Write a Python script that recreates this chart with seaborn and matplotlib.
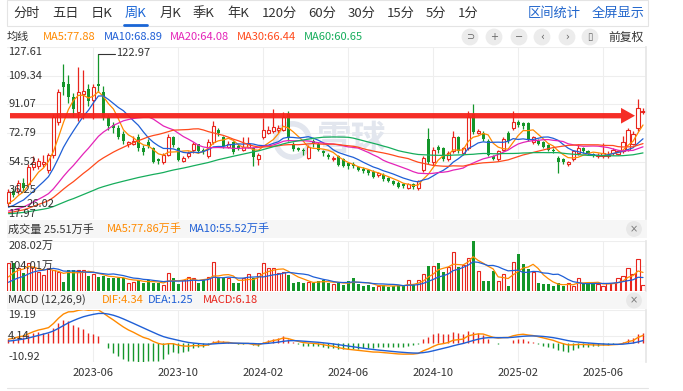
import numpy as np
import pandas as pd
import matplotlib.pyplot as plt
import seaborn as sns
from matplotlib.patches import FancyArrow, Rectangle
from matplotlib.lines import Line2D

# weekly K-line (前复权), oldest first
opens = [28, 36, 36, 41, 40, 51, 52, 53, 49, 59,
         80, 105, 104, 96, 86, 97.5, 100.7, 94, 103.9, 99,
         83, 78, 76, 72, 65.5, 66, 70, 63, 67, 63,
         56, 54, 59, 70, 63, 55, 58, 62, 65.5, 62,
         58, 67, 74.5, 70, 64, 67, 64.5, 62, 64, 63,
         56, 70, 73, 74, 74.5, 75, 85, 66, 63, 62,
         57, 68, 66, 61, 59, 56, 58, 56, 53.5, 53,
         51, 50, 49, 48, 46, 46, 44, 42, 41, 40,
         38, 40, 38, 49, 69, 54, 64, 63, 56, 61,
         70, 60, 63, 85, 73, 73, 68, 58, 56, 62,
         73, 76, 80, 79, 79, 67, 68, 67, 65, 62,
         57, 56, 53, 56, 60, 63, 61, 59.5, 58, 58,
         58, 60, 59.5, 61, 62, 66, 76, 86]
closes = [35, 33.5, 41, 38, 51, 54, 55, 54.5, 59, 83,
          99, 102, 96, 88, 99, 99.4, 93, 102, 102.5, 83,
          77, 76, 70.5, 67.5, 67, 68, 63, 60.5, 64.5, 54.5,
          55, 59, 70, 65, 55.5, 57, 60, 65.5, 61.5, 61,
          67, 77, 72.5, 64.5, 66, 60.5, 63, 64, 65.5, 57.5,
          59, 75, 75, 76.5, 76, 83, 69.5, 62.5, 62, 61,
          64, 65.5, 62, 60, 57.5, 57, 52.5, 51.5, 51.5, 51.5,
          49.5, 48.5, 47, 45, 47, 43.5, 42.5, 40.5, 38.5, 39,
          40, 38.5, 42, 57, 54.5, 62, 62, 56, 60, 70,
          61, 63, 83, 73.5, 74, 69, 58.5, 56.5, 61, 69,
          67.5, 80, 78, 77, 69, 70, 66, 64, 62, 61,
          54.5, 54, 54, 61, 63, 61, 59.5, 58.5, 59, 60,
          59, 62, 61.5, 67, 75, 72, 89, 86.5]
highs = [37, 38, 43, 44, 53, 58, 57, 59, 60, 85,
         101, 116.5, 110, 98, 115, 113, 104, 104, 122.97, 103,
         85, 80, 78, 74, 68, 71, 72, 65, 69, 64,
         57, 60, 72, 71, 64, 58, 61, 67, 66, 63,
         69, 80.5, 76, 71, 68, 68, 66, 70.5, 70, 64,
         60, 82.5, 77, 88, 78, 86, 87, 67, 64, 63,
         65, 69, 67, 62, 60, 58, 59, 57, 54, 54,
         52, 51, 50, 49, 48, 47, 45, 43, 42, 41,
         41, 41, 43, 58, 76, 64, 65, 64, 61, 74,
         71, 64, 87, 91, 75.5, 74, 69, 59, 62, 70,
         74, 86.5, 81, 80, 80, 71, 69, 68, 66, 63,
         58, 57, 55, 62, 66, 64, 62, 60, 60, 66.5,
         61, 63, 62, 71, 76, 74, 94.5, 88.5]
lows = [26.02, 32, 34, 36, 39, 49, 50, 51, 47, 57,
        78, 97, 92, 83, 80.5, 81.5, 90, 81.5, 99, 81,
        75, 73, 69, 66, 64, 65, 61, 59, 63, 53.5,
        53, 53, 58, 64, 55, 54, 57, 60, 60, 59.5,
        57, 66, 71, 63, 63, 59.5, 62, 61, 63, 51.5,
        52.5, 69, 72, 73, 73, 74, 68, 61, 61, 59,
        56, 64, 61, 58, 56.5, 55, 52, 51, 50, 50.5,
        48.5, 47.5, 46, 44, 45, 42.5, 41.5, 39.5, 37.5, 38,
        37, 37, 36.5, 48, 53, 52.5, 60, 55, 55, 60,
        60, 59, 62, 72, 72, 68, 58, 55.5, 55, 61,
        66.5, 75, 76.5, 75.5, 68, 66, 65, 63, 61, 60,
        47.3, 53, 52, 55, 59, 60, 58.5, 57.5, 57, 57,
        57, 59, 58.5, 60, 61, 65, 74, 85]
# 成交量, 万手
volumes = [115, 115, 94, 73, 115, 101, 80, 67, 94, 87,
           80, 39, 87, 87, 87, 87, 62, 69, 60, 62,
           55, 53, 53, 53, 32, 39, 46, 32, 46, 32,
           32, 25, 73, 53, 29, 46, 60, 53, 32, 46,
           60, 122, 53, 53, 53, 32, 32, 53, 69, 53,
           73, 115, 94, 97, 73, 80, 67, 32, 39, 35,
           39, 32, 42, 46, 35, 28, 32, 25, 42, 56,
           28, 21, 25, 18, 21, 25, 18, 21, 25, 21,
           45, 25, 45, 70, 105, 105, 115, 77, 98, 162,
           98, 108, 138, 208.02, 84, 42, 42, 84, 42, 70,
           21, 120, 155, 112, 91, 77, 35, 28, 28, 21,
           32, 21, 35, 21, 56, 35, 28, 35, 28, 21,
           35, 35, 56, 63, 95, 70, 133, 25.51]

# weeks before the visible window, only used to warm up MA / MACD
prior_closes = [21.5, 22.0, 21.2, 20.8, 21.5, 22.3, 23.0, 22.1, 21.4, 20.6,
                20.1, 19.8, 20.5, 21.2, 20.9, 20.3, 19.7, 19.2, 19.8, 20.4,
                21.0, 21.6, 20.8, 20.2, 19.6, 19.1, 18.8, 19.4, 20.0, 20.6,
                21.3, 20.7, 20.1, 19.5, 19.0, 18.6, 19.2, 19.9, 20.5, 21.1,
                21.8, 21.2, 20.6, 20.0, 19.6, 20.2, 20.9, 21.5, 21.0, 20.5,
                21.2, 21.9, 22.6, 22.0, 23.5, 24.8, 23.9, 25.5, 27.0, 28.5]
prior_volumes = [12, 14, 10, 16, 18, 30, 40, 48, 60]

tick_labels = ['2023-06', '2023-10', '2024-02', '2024-06', '2024-10', '2025-02', '2025-06']
price_ticks = [127.61, 109.34, 91.07, 72.79, 54.52, 36.25, 17.97]
vol_ticks = [208.02, 104.01]
macd_ticks = [19.19, 4.14, -10.92]
tabs = ['分时', '五日', '日K', '周K', '月K', '季K', '年K', '120分', '60分', '30分', '15分', '5分', '1分']
ma_windows = [5, 10, 20, 30, 60]
ma_labels = ['MA5:77.88', 'MA10:68.89', 'MA20:64.08', 'MA30:66.44', 'MA60:60.65']
arrow_level = 83.8

RED = '#e8251d'
GREEN = '#14962a'
MA_COLORS = ['#ff8a00', '#1f5fd6', '#e424b8', '#ff4a1c', '#16ad5c']
GRID = '#eeeeee'
TXT = '#333333'

W, H = 683, 391


def fx(x):
    return x / W


def fy(y):
    return 1 - y / H


sns.set_theme(style='white')
plt.rcParams['font.family'] = ['Noto Sans CJK SC', 'DejaVu Sans']

n = len(closes)
idx = np.arange(n)
o = np.array(opens)
c = np.array(closes)
h = np.array(highs)
l = np.array(lows)
v = np.array(volumes)
up = c >= o
top = np.maximum(o, c)
bot = np.minimum(o, c)
hgt = np.maximum(top - bot, 0.35)

all_close = pd.Series(prior_closes + closes)
k = len(prior_closes)
ma = {w: all_close.rolling(w).mean().iloc[k:].values for w in ma_windows}
all_vol = pd.Series(prior_volumes + volumes)
vma5 = all_vol.rolling(5).mean().iloc[len(prior_volumes):].values
vma10 = all_vol.rolling(10).mean().iloc[len(prior_volumes):].values
dif = all_close.ewm(span=12, adjust=False).mean() - all_close.ewm(span=26, adjust=False).mean()
dea = dif.ewm(span=9, adjust=False).mean()
dif = dif.iloc[k:].values
dea = dea.iloc[k:].values
hist = 2 * (dif - dea)

fig = plt.figure(figsize=(W / 100, H / 100), dpi=100)
fig.patch.set_facecolor('white')

left, right = 7, 646
ax = fig.add_axes([fx(left), fy(219), fx(right - left), 172 / H])
axv = fig.add_axes([fx(left), fy(291), fx(right - left), 50 / H])
axm = fig.add_axes([fx(left), fy(362), fx(right - left), 52 / H])

ticks = list(range(17, n, 17))[:len(tick_labels)]
for a in (ax, axv, axm):
    a.set_xlim(-0.3, 127.6)
    a.set_xticks(ticks)
    a.grid(axis='x', color=GRID, lw=0.8)
    a.grid(axis='y', color=GRID, lw=0.8)
    for s in a.spines.values():
        s.set_visible(False)
    a.spines['right'].set_visible(True)
    a.spines['right'].set_color('#e6e6e6')
    a.tick_params(length=0, labelleft=False, labelbottom=False)
    a.set_axisbelow(True)

# ---- price panel
ax.set_ylim(price_ticks[-1], price_ticks[0])
ax.set_yticks(price_ticks)
ax.vlines(idx[~up], l[~up], h[~up], color=GREEN, lw=0.9, zorder=2)
ax.bar(idx[~up], hgt[~up], bottom=bot[~up], width=0.62, color=GREEN, lw=0, zorder=2)
ax.vlines(idx[up], l[up], bot[up], color=RED, lw=0.9, zorder=2)
ax.vlines(idx[up], top[up], h[up], color=RED, lw=0.9, zorder=2)
ax.bar(idx[up], hgt[up], bottom=bot[up], width=0.62, facecolor='white', edgecolor=RED, lw=0.8, zorder=2)
for w, col in zip(ma_windows, MA_COLORS):
    sns.lineplot(x=idx, y=ma[w], ax=ax, color=col, linewidth=0.9, zorder=3)
ax.set_ylabel('')

ax.add_patch(FancyArrow(0.3, arrow_level, 125.1, 0, width=3.4, head_width=10, head_length=2.8,
                        length_includes_head=True, color='#f5221b', lw=0, alpha=0.95, zorder=5))

imax = int(np.argmax(h))
ax.plot([imax, imax + 3.3], [h[imax]] * 2, color=TXT, lw=0.8, zorder=4)
ax.text(imax + 3.5, h[imax] + 0.5, f'{h[imax]:.2f}', fontsize=8, color=TXT, va='center', zorder=6)
imin = int(np.argmin(l))
ax.plot([imin, imin + 3.4], [l[imin]] * 2, color=TXT, lw=0.8, zorder=4)
ax.text(imin + 3.7, l[imin] + 1.5, f'{l[imin]:.2f}', fontsize=8, color=TXT, va='center', zorder=6)

ytr = ax.get_yaxis_transform()
for i, t in enumerate(price_ticks):
    va = 'top' if i == 0 else ('bottom' if i == len(price_ticks) - 1 else 'center')
    ax.text(0.002, t, f'{t:.2f}', transform=ytr, fontsize=8, color=TXT, va=va, ha='left', zorder=7)

# watermark
ax.text(fx(352), fy(140), '雪球', transform=fig.transFigure, fontsize=25, fontweight='bold',
        color='#e2e6ee', ha='center', va='center', zorder=1)
ax.plot([fx(292)], [fy(140)], marker='o', markersize=24, mfc='none', mec='#e2e6ee', mew=4,
        transform=fig.transFigure, zorder=1)

# ---- volume panel
axv.set_ylim(0, vol_ticks[0])
axv.set_yticks(vol_ticks)
axv.bar(idx[~up], v[~up], width=0.62, color=GREEN, lw=0, zorder=2)
axv.bar(idx[up], v[up], width=0.62, facecolor='white', edgecolor=RED, lw=0.8, zorder=2)
sns.lineplot(x=idx, y=vma5, ax=axv, color=MA_COLORS[0], linewidth=0.9, zorder=3)
sns.lineplot(x=idx, y=vma10, ax=axv, color=MA_COLORS[1], linewidth=0.9, zorder=3)
axv.set_ylabel('')
ytr = axv.get_yaxis_transform()
axv.text(0.002, vol_ticks[0], f'{vol_ticks[0]:.2f}万', transform=ytr, fontsize=8, color=TXT, va='top', zorder=7)
axv.text(0.002, vol_ticks[1], f'{vol_ticks[1]:.2f}万', transform=ytr, fontsize=8, color=TXT, va='center', zorder=7)

# ---- MACD panel
axm.set_ylim(macd_ticks[-1], macd_ticks[0])
axm.set_yticks(macd_ticks)
axm.vlines(idx[hist >= 0], 0, hist[hist >= 0], color=RED, lw=1.0, zorder=2)
axm.vlines(idx[hist < 0], 0, hist[hist < 0], color=GREEN, lw=1.0, zorder=2)
sns.lineplot(x=idx, y=dif, ax=axm, color=MA_COLORS[0], linewidth=1.0, zorder=3)
sns.lineplot(x=idx, y=dea, ax=axm, color=MA_COLORS[1], linewidth=1.0, zorder=3)
axm.set_ylabel('')
ytr = axm.get_yaxis_transform()
for i, t in enumerate(macd_ticks):
    va = 'top' if i == 0 else ('bottom' if i == len(macd_ticks) - 1 else 'center')
    axm.text(0.002, t, f'{t:.2f}', transform=ytr, fontsize=8, color=TXT, va=va, zorder=7)
axm.set_xticklabels(tick_labels)
axm.tick_params(labelbottom=True, labelsize=8, labelcolor=TXT, pad=4)

# ---- header / chrome
fig.add_artist(Rectangle((fx(7), fy(26)), fx(641), 26 / H, transform=fig.transFigure,
                         fc='white', ec='#e4e4e4', lw=0.8))
tab_x = [13, 52, 91, 125, 160, 193, 227, 262, 308, 348, 387, 426, 458]
for x, t in zip(tab_x, tabs):
    fig.text(fx(x), fy(13), t, fontsize=9.5, color='#1a66d6' if t == '周K' else TXT, va='center')
fig.add_artist(Line2D([fx(124), fx(147)], [fy(25), fy(25)], color='#1a66d6', lw=2))
fig.text(fx(528), fy(13), '区间统计', fontsize=9.5, color='#2266cc', va='center')
fig.text(fx(592), fy(13), '全屏显示', fontsize=9.5, color='#2266cc', va='center')

fig.text(fx(7), fy(37), '均线', fontsize=8, color=TXT, va='center')
for x, t, col in zip([43, 104, 170, 237, 304], ma_labels, MA_COLORS):
    fig.text(fx(x), fy(37), t, fontsize=8, color=col, va='center')
for x, sym in zip([470, 494, 519, 542, 567, 590], ['⊃', '+', '−', '‹', '›', '▯']):
    fig.text(fx(x), fy(37), sym, fontsize=7, color='#666666', ha='center', va='center',
             family='DejaVu Sans', bbox=dict(boxstyle='circle,pad=0.35', fc='#ececec', ec='none'))
fig.text(fx(608), fy(37), '前复权', fontsize=8.5, color=TXT, va='center')

for y0, y1 in [(220, 238), (292, 309)]:
    fig.add_artist(Rectangle((fx(7), fy(y1)), fx(640), (y1 - y0) / H, transform=fig.transFigure,
                             fc='#f6f6f6', ec='none', zorder=0))
    fig.text(fx(634), fy((y0 + y1) / 2), '×', fontsize=7, color='#777777', ha='center', va='center',
             family='DejaVu Sans', bbox=dict(boxstyle='circle,pad=0.3', fc='#e8e8e8', ec='none'))

fig.text(fx(8), fy(229), '成交量 25.51万手', fontsize=8, color=TXT, va='center')
fig.text(fx(107), fy(229), 'MA5:77.86万手', fontsize=8, color=MA_COLORS[0], va='center')
fig.text(fx(189), fy(229), 'MA10:55.52万手', fontsize=8, color=MA_COLORS[1], va='center')

fig.text(fx(8), fy(300), 'MACD (12,26,9)', fontsize=8, color=TXT, va='center')
fig.text(fx(102), fy(300), 'DIF:4.34', fontsize=8, color=MA_COLORS[0], va='center')
fig.text(fx(148), fy(300), 'DEA:1.25', fontsize=8, color=MA_COLORS[1], va='center')
fig.text(fx(203), fy(300), 'MACD:6.18', fontsize=8, color=RED, va='center')

fig.add_artist(Line2D([fx(7), fx(648)], [fy(388), fy(388)], color='#e4e4e4', lw=0.8))

fig.savefig('out.png', dpi=100)
